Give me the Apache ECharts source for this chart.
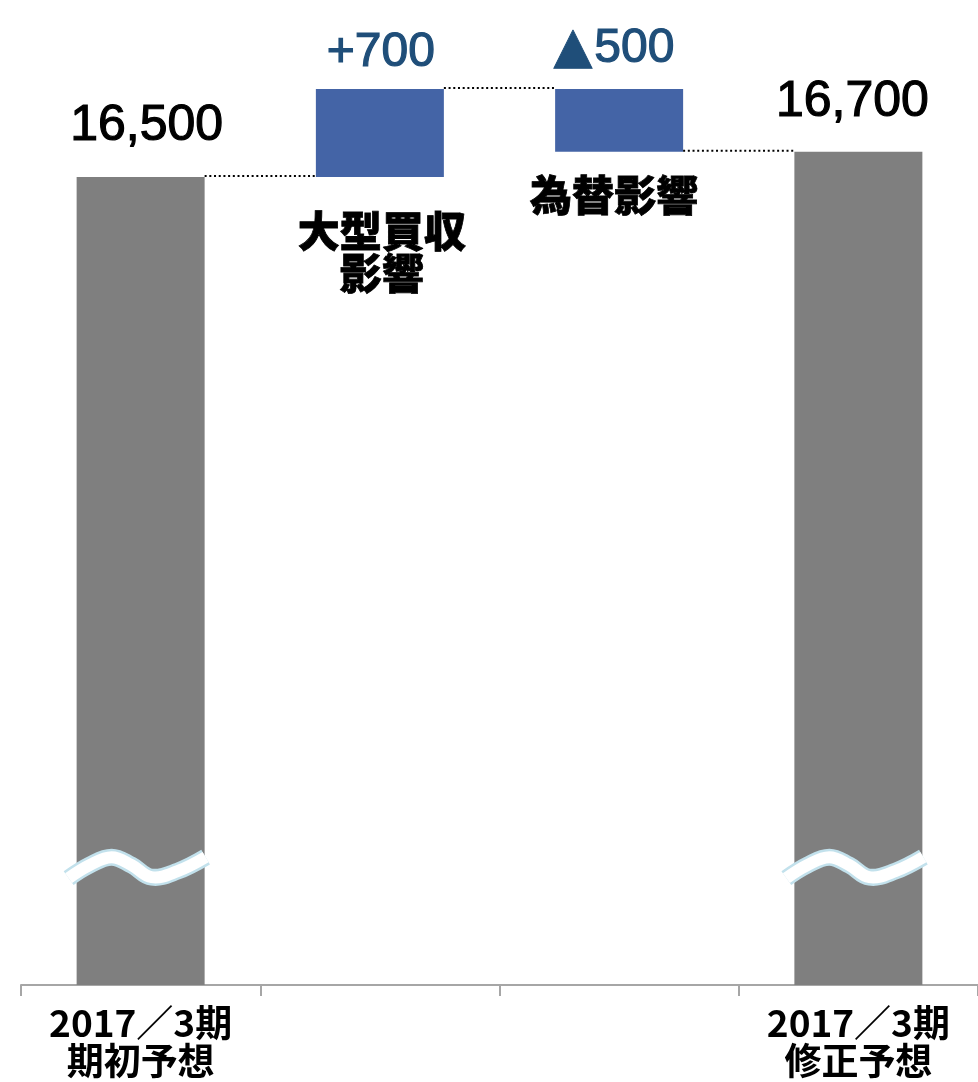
<!DOCTYPE html>
<html>
<head>
<meta charset="utf-8">
<script src="https://cdn.jsdelivr.net/npm/echarts@6/dist/echarts.min.js"></script>
<style>
html,body{margin:0;padding:0;background:#fff;}
#chart{width:978px;height:1082px;}
</style>
</head>
<body>
<div id="chart"></div>
<script>
// ---- data ----
const categories = ['2017／3期\n期初予想', '大型買収\n影響', '為替影響', '2017／3期\n修正予想'];
const stepTypes = ['total', 'delta', 'delta', 'total'];
const stepValues = [16500, 700, -500, 16700];
const breakValue = 11000;       // where the axis-break wave sits on the total bars
const axisMin = 10070;          // broken value axis (bars are not drawn from zero)
const axisMax = 17200;

// ---- build waterfall pieces ----
const baseData = [];
const barData = [];
const levels = [];
let running = 0;
stepValues.forEach((v, i) => {
  if (stepTypes[i] === 'total') {
    baseData.push(0);
    barData.push(v);
    running = v;
  } else if (v >= 0) {
    baseData.push(running);
    barData.push(v);
    running += v;
  } else {
    running += v;
    baseData.push(running);
    barData.push(-v);
  }
  levels.push(running);
});

const GRAY = '#7F7F7F';
const BLUE = '#4464A6';
const LABEL_BLUE = '#1F4E79';
const NUM_FONT = "'Liberation Sans', Arial, 'Noto Sans CJK JP', sans-serif";
const JP_FONT = "'Noto Sans CJK JP', sans-serif";
const BAR_FRACTION = 0.535;

function valueText(i) {
  const v = stepValues[i];
  if (stepTypes[i] === 'total') return v.toLocaleString('en-US');
  if (v >= 0) return '+' + Math.abs(v).toLocaleString('en-US');
  return '{tri|▲}' + Math.abs(v).toLocaleString('en-US');
}

const labelDistances = [26, 12, 16, 25];
const labelOffsets = [[6, 0], [1, 0], [-5, 0], [-6, 0]];
const nameDistances = [0, 33, 22, 0];
const nameOffsets = [[0, 0], [2, 0], [-5, 0], [0, 0]];

const chart = echarts.init(document.getElementById('chart'), null, {renderer: 'canvas'});
chart.setOption({
  animation: false,
  backgroundColor: '#ffffff',
  grid: {left: 21, right: 0, top: 89, bottom: 97, outerBoundsMode: 'none', containLabel: false},
  xAxis: {
    type: 'category',
    data: categories,
    boundaryGap: true,
    axisLine: {show: true, lineStyle: {color: '#A6A6A6', width: 2}},
    axisTick: {show: true, length: 11, interval: 0, alignWithLabel: false, lineStyle: {color: '#A6A6A6', width: 2}},
    axisLabel: {
      interval: 0,
      margin: 19,
      color: '#000',
      fontFamily: JP_FONT,
      fontWeight: 'bold',
      fontSize: 37,
      lineHeight: 38,
      formatter: (val, idx) => stepTypes[idx] === 'total' ? val : ''
    },
    splitLine: {show: false}
  },
  yAxis: {
    type: 'value',
    min: axisMin,
    max: axisMax,
    show: false,
    splitLine: {show: false}
  },
  series: [
    {
      name: 'base',
      type: 'bar',
      stack: 'w',
      barWidth: (BAR_FRACTION * 100) + '%',
      itemStyle: {color: 'rgba(0,0,0,0)'},
      emphasis: {disabled: true},
      data: baseData.map((v, i) => ({
        value: v,
        label: {
          show: stepTypes[i] === 'delta',
          position: 'insideTop',
          distance: nameDistances[i],
          offset: nameOffsets[i],
          formatter: p => p.name,
          color: '#000',
          fontFamily: JP_FONT,
          fontWeight: 900,
          fontSize: 42,
          lineHeight: 42,
          textBorderColor: '#000',
          textBorderWidth: 0.8
        }
      }))
    },
    {
      name: 'value',
      type: 'bar',
      stack: 'w',
      barWidth: (BAR_FRACTION * 100) + '%',
      emphasis: {disabled: true},
      data: barData.map((v, i) => {
        const isTotal = stepTypes[i] === 'total';
        const col = isTotal ? '#000' : LABEL_BLUE;
        return {
          value: v,
          itemStyle: {color: isTotal ? GRAY : BLUE},
          label: {
            show: true,
            position: 'top',
            distance: labelDistances[i],
            offset: labelOffsets[i],
            formatter: () => valueText(i),
            color: col,
            fontFamily: NUM_FONT,
            fontSize: isTotal ? 50 : 48,
            lineHeight: isTotal ? 50 : 48,
            textBorderColor: col,
            textBorderWidth: 1.2,
            rich: {
              tri: {
                fontFamily: "'DejaVu Sans', sans-serif",
                fontSize: 50,
                lineHeight: 48,
                color: col,
                textBorderColor: col,
                textBorderWidth: 1,
                padding: [0, 2, 0, 0]
              }
            }
          }
        };
      })
    },
    {
      name: 'connectors',
      type: 'custom',
      z: 5,
      silent: true,
      data: levels.slice(0, levels.length - 1).map((lv, i) => [i, lv]),
      renderItem: (params, api) => {
        const p = api.coord([api.value(0), api.value(1)]);
        const cw = api.size([1, 0])[0];
        const bw = cw * BAR_FRACTION;
        return {
          type: 'line',
          shape: {x1: p[0] + bw / 2, y1: p[1] - 1, x2: p[0] + cw - bw / 2, y2: p[1] - 1},
          style: {stroke: '#000', lineWidth: 2, lineDash: [2, 2.7]}
        };
      }
    },
    {
      name: 'breaks',
      type: 'custom',
      z: 10,
      silent: true,
      data: stepTypes.map((t, i) => t === 'total' ? [i, breakValue] : null).filter(d => d),
      renderItem: (params, api) => {
        const p = api.coord([api.value(0), api.value(1)]);
        const rel = [[-72, 10], [-51, -3], [-29, -11], [-9, -3], [11, 9], [37, 3], [65, -11]];
        const pts = rel.map(r => [p[0] + r[0], p[1] + r[1]]);
        return {
          type: 'group',
          children: [
            {type: 'polyline', shape: {points: pts, smooth: 0.4}, style: {stroke: '#C2E1EC', lineWidth: 17, fill: null, lineCap: 'butt'}},
            {type: 'polyline', shape: {points: pts, smooth: 0.4}, style: {stroke: '#FFFFFF', lineWidth: 12, fill: null, lineCap: 'butt'}}
          ]
        };
      }
    }
  ]
});
</script>
</body>
</html>
